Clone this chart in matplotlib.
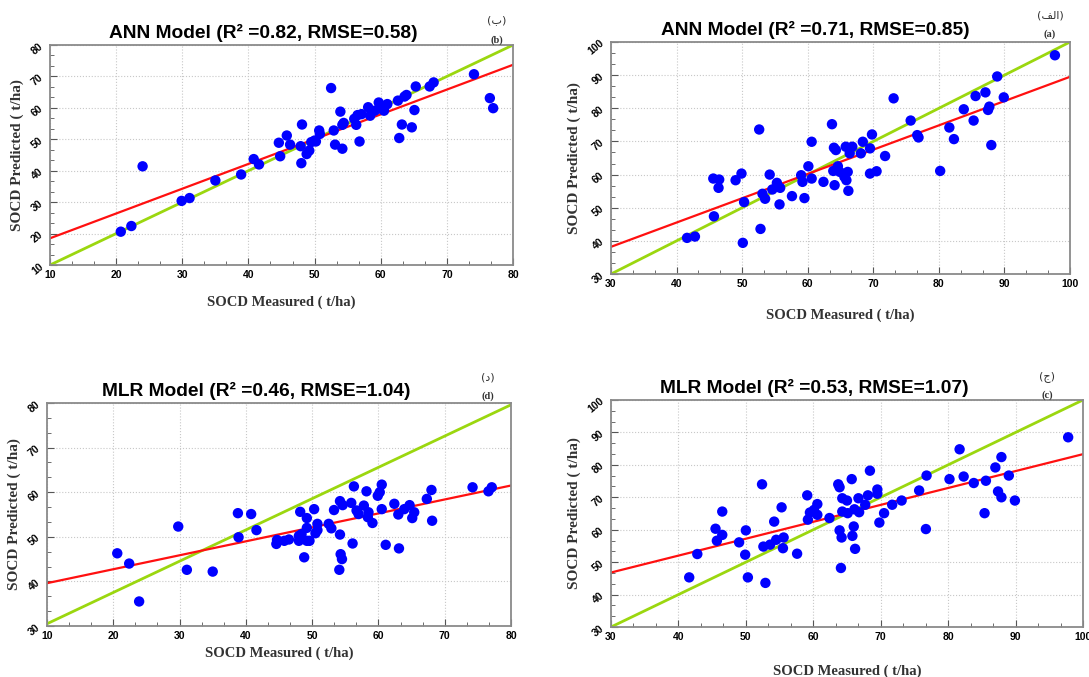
import matplotlib.pyplot as plt
from matplotlib.ticker import MultipleLocator, AutoMinorLocator

# Panel (b) ANN, measured vs predicted
ann_b_x = [20.7, 22.3, 24.0, 29.9, 31.1, 35.0, 38.9, 40.8, 41.6, 44.6, 44.8, 45.8, 46.3,
           48.1, 48.0, 47.9, 48.8, 49.2, 49.5, 50.0, 50.2, 50.7, 50.8, 52.5, 52.9, 53.1,
           53.9, 54.2, 54.2, 54.4, 56.3, 56.0, 56.5, 56.8, 57.1, 58.1, 58.4, 59.1, 59.7,
           60.2, 60.5, 61.0, 62.6, 62.8, 63.2, 63.6, 63.9, 64.7, 65.1, 65.3, 67.4, 68.0,
           74.1, 76.5, 77.0]
ann_b_y = [20.6, 22.4, 41.4, 30.4, 31.3, 36.9, 38.8, 43.7, 42.0, 48.9, 44.6, 51.2, 48.3,
           54.7, 42.4, 47.8, 45.3, 46.4, 49.1, 49.6, 49.3, 52.8, 51.7, 66.3, 52.8, 48.3,
           58.8, 47.0, 54.6, 55.2, 54.6, 56.5, 57.7, 49.3, 58.0, 60.2, 57.5, 59.1, 61.7,
           59.6, 59.1, 61.2, 62.3, 50.4, 54.7, 63.6, 64.1, 53.8, 59.3, 66.8, 66.8, 68.1,
           70.7, 63.1, 59.9]
fit_b = [18.5, 73.7]
diag_b = [10, 80]

# Panel (a) ANN
ann_a_x = [41.6, 42.8, 45.7, 45.6, 46.5, 46.4, 49.0, 49.9, 50.1, 50.3, 52.6, 52.8, 53.1,
           53.5, 54.2, 54.6, 55.3, 55.8, 55.7, 57.6, 59.0, 59.2, 59.5, 60.1, 60.6, 60.6,
           62.4, 63.7, 63.9, 64.0, 64.1, 64.3, 64.6, 64.9, 65.6, 65.8, 65.9, 66.1, 66.2,
           66.4, 66.8, 68.1, 68.4, 69.5, 69.5, 69.8, 70.5, 71.8, 73.1, 75.7, 76.7, 76.9,
           80.2, 81.6, 82.3, 83.8, 85.3, 85.6, 87.1, 87.5, 87.7, 88.0, 88.9, 89.9, 97.7]
ann_a_y = [40.9, 41.3, 47.4, 58.8, 58.5, 56.0, 58.3, 60.3, 39.4, 51.7, 73.6, 43.6, 54.2,
           52.7, 60.0, 55.5, 57.5, 56.0, 51.0, 53.5, 59.8, 57.8, 52.9, 62.5, 58.8, 69.9,
           57.8, 75.2, 61.1, 68.1, 56.8, 67.4, 62.5, 60.8, 59.3, 68.4, 58.3, 60.8, 55.1,
           66.4, 68.4, 66.4, 69.9, 67.9, 60.3, 72.1, 61.0, 65.6, 83.0, 76.3, 71.9, 71.2,
           61.1, 74.2, 70.7, 79.7, 76.3, 83.7, 84.8, 79.5, 80.5, 68.9, 89.6, 83.3, 96.0]
fit_a = [38.2, 89.5]
diag_a = [30, 100]

# Panel (d) MLR
mlr_d_x = [20.6, 22.4, 23.9, 29.8, 31.1, 35.0, 38.8, 38.9, 40.8, 41.6, 44.6, 44.7, 45.8,
           46.5, 48.2, 48.0, 48.0, 48.4, 48.8, 49.2, 49.2, 49.2, 49.6, 50.3, 50.5, 50.8,
           50.8, 52.5, 52.9, 53.3, 54.2, 54.2, 54.3, 54.5, 54.1, 54.6, 55.9, 56.1, 56.3,
           56.7, 57.0, 57.8, 58.2, 58.4, 58.5, 59.1, 59.9, 60.2, 60.5, 60.5, 61.1, 62.4,
           63.0, 63.1, 63.9, 64.7, 65.1, 65.4, 67.3, 68.0, 68.1, 74.2, 76.6, 77.1]
mlr_d_y = [46.3, 44.0, 35.5, 52.3, 42.6, 42.2, 55.3, 49.9, 55.1, 51.5, 48.4, 49.3, 49.1,
           49.4, 55.6, 50.2, 49.1, 50.6, 45.4, 54.2, 52.0, 49.1, 49.1, 56.2, 50.8, 52.9,
           51.5, 52.9, 51.9, 56.0, 50.5, 58.0, 46.1, 45.0, 42.6, 57.1, 57.6, 48.5, 61.3,
           55.9, 55.1, 57.0, 60.2, 54.4, 55.5, 53.1, 59.2, 60.0, 61.7, 56.2, 48.2, 57.4,
           55.0, 47.4, 56.2, 57.1, 54.2, 55.5, 58.5, 60.5, 53.6, 61.1, 60.2, 61.1]
fit_d = [39.6, 61.5]
diag_d = [30.5, 79.6]

# Panel (c) MLR
mlr_c_x = [41.6, 42.8, 45.5, 45.7, 46.5, 46.5, 49.0, 49.9, 50.0, 50.3, 52.4, 52.6, 52.9,
           53.6, 54.2, 54.5, 55.3, 55.5, 55.6, 57.6, 59.1, 59.2, 59.5, 60.1, 60.6, 60.6,
           62.4, 63.7, 63.9, 63.9, 64.1, 64.2, 64.3, 64.3, 65.0, 65.1, 65.7, 65.8, 66.0,
           66.1, 66.2, 66.7, 66.8, 67.7, 68.1, 68.4, 69.5, 69.5, 69.8, 70.5, 71.7, 73.1,
           75.7, 76.7, 76.8, 80.2, 81.7, 82.3, 83.8, 85.4, 85.6, 87.0, 87.4, 87.9, 87.9,
           89.0, 89.9, 97.8]
mlr_c_y = [45.3, 52.5, 60.3, 56.6, 58.4, 65.6, 56.1, 52.3, 59.8, 45.3, 74.0, 54.8, 43.6,
           55.4, 62.5, 56.9, 66.9, 54.3, 57.6, 52.6, 70.6, 63.1, 65.3, 66.1, 67.9, 64.6,
           63.6, 74.0, 73.1, 59.8, 48.2, 57.6, 65.6, 69.7, 69.0, 65.1, 75.6, 58.1, 61.0,
           66.3, 54.1, 69.7, 65.4, 67.7, 70.6, 78.2, 72.4, 71.1, 62.2, 65.1, 67.7, 69.0,
           72.1, 60.2, 76.7, 75.6, 84.8, 76.4, 74.4, 65.1, 75.1, 79.2, 71.8, 82.4, 70.0,
           76.7, 69.0, 88.5]
fit_c = [46.8, 83.3]
diag_c = [30, 100]

titles = ['ANN Model (R\u00b2 =0.82, RMSE=0.58)', 'ANN Model (R\u00b2 =0.71, RMSE=0.85)',
          'MLR Model (R\u00b2 =0.46, RMSE=1.04)', 'MLR Model (R\u00b2 =0.53, RMSE=1.07)']
tags_fa = ['(\u0628)', '(\ufed2\ufedf\ufe8d)', '(\u062f)', '(\u062c)']
tags_en = ['(b)', '(a)', '(d)', '(c)']

panels = [
    (ann_b_x, ann_b_y, fit_b, diag_b, (10, 80), (10, 80)),
    (ann_a_x, ann_a_y, fit_a, diag_a, (30, 100), (30, 100)),
    (mlr_d_x, mlr_d_y, fit_d, diag_d, (10, 80), (30, 80)),
    (mlr_c_x, mlr_c_y, fit_c, diag_c, (30, 100), (30, 100)),
]

# axes boxes in pixels (left, top, right, bottom) of a 1089x677 figure
W, H = 1089, 677
boxes = [(50, 45, 513, 265), (611, 42, 1070, 274), (47, 403, 511, 626), (611, 400, 1083, 627)]
title_cx = [263, 815, 256, 814]
tag_pos = [(497, 20, 40), (1050, 15, 34), (488, 378, 396), (1047, 377, 395)]
xlabel_pad = [11, 14, 4, 16]

title_font = ['Liberation Sans', 'DejaVu Sans']
serif_font = ['Liberation Serif', 'DejaVu Serif']

fig = plt.figure(figsize=(W / 100, H / 100), dpi=100)

for i, (xs, ys, fit, diag, xlim, ylim) in enumerate(panels):
    l, t, r, b = boxes[i]
    ax = fig.add_axes([l / W, 1 - b / H, (r - l) / W, (b - t) / H])
    ax.set_xlim(xlim)
    ax.set_ylim(ylim)
    ax.plot(xlim, diag, color='#9bd70f', lw=2, zorder=2)
    ax.plot(xlim, fit, color='#ff1010', lw=1.6, zorder=2)
    ax.scatter(xs, ys, s=56, color='#0000ff', edgecolors='none', zorder=3)

    ax.xaxis.set_major_locator(MultipleLocator(10))
    ax.yaxis.set_major_locator(MultipleLocator(10))
    ax.xaxis.set_minor_locator(AutoMinorLocator(3))
    ax.yaxis.set_minor_locator(AutoMinorLocator(3))
    ax.grid(True, which='major', color='#c8c8c8', ls=':', lw=0.8)
    ax.tick_params(which='both', direction='in', color='#555555')
    ax.tick_params(which='major', length=5)
    ax.tick_params(which='minor', length=3)
    for sp in ax.spines.values():
        sp.set_color('#8a8a8a')
        sp.set_linewidth(1.3)
    for lab in ax.get_xticklabels():
        lab.set_family(title_font)
        lab.set_fontweight('bold')
        lab.set_fontsize(7.5)
    for lab in ax.get_yticklabels():
        lab.set_family(title_font)
        lab.set_fontweight('bold')
        lab.set_fontsize(7.5)
        lab.set_rotation(40)
    ax.set_xlabel('SOCD Measured ( t/ha)', family=serif_font, fontweight='bold',
                  fontsize=10.5, color='#333333', labelpad=xlabel_pad[i])
    ax.set_ylabel('SOCD Predicted ( t/ha)', family=serif_font, fontweight='bold',
                  fontsize=11, color='#333333', labelpad=4)
    ax.set_title(titles[i], family=title_font, fontweight='bold', fontsize=13.8, pad=5,
                 x=(title_cx[i] - l) / (r - l))

    tx, ty1, ty2 = tag_pos[i]
    fig.text(tx / W, 1 - ty1 / H, tags_fa[i], ha='center', va='center',
             family=['DejaVu Sans'], fontsize=8, color='#333333')
    fig.text(tx / W, 1 - ty2 / H, tags_en[i], ha='center', va='center',
             family=serif_font, fontweight='bold', fontsize=7.5, color='#333333')

plt.savefig('out.png', dpi=100, facecolor='white')
